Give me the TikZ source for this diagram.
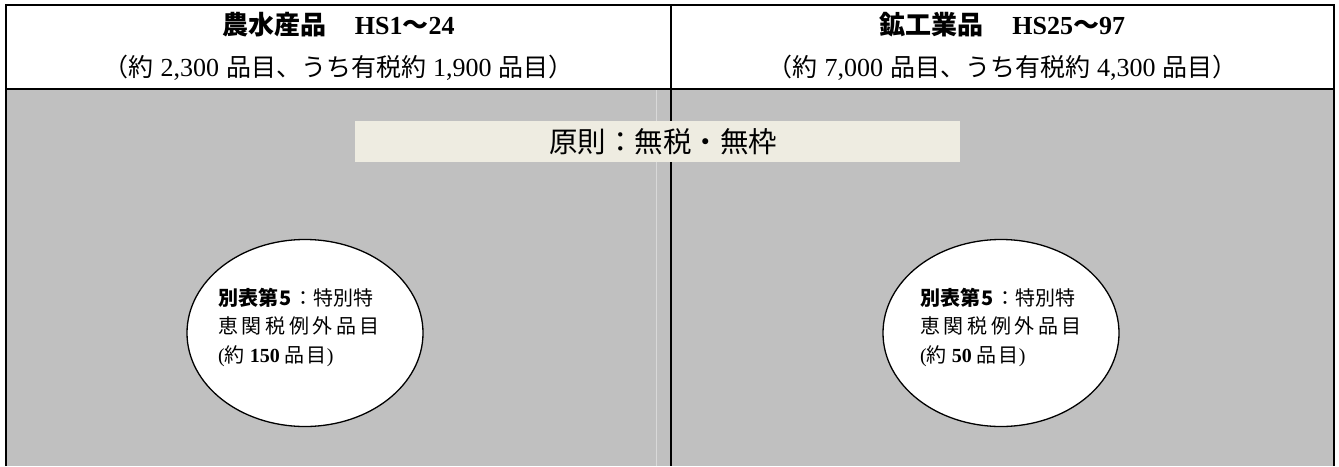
\documentclass[tikz,border=0pt]{standalone}
\usepackage{fontspec}
\setmainfont{Liberation Serif}
\newfontfamily\jp{Noto Sans CJK JP}
\usetikzlibrary{shapes.geometric}
\definecolor{panelgrey}{HTML}{C0C0C0}
\definecolor{bannerbg}{HTML}{EEECE1}
\definecolor{faintline}{HTML}{D9D9D9}
\newcommand\ls{\hspace{3.6pt}}
\newcommand\gap{\hspace{7pt}}
\tikzset{
  frame/.style={line width=2pt, black},
  titletext/.style={inner sep=0pt, font=\fontsize{26}{30}\selectfont\bfseries},
  subtext/.style={inner sep=0pt, font=\fontsize{26}{30}\selectfont},
  banner/.style={fill=bannerbg, minimum width=605pt, minimum height=41pt, inner sep=0pt},
  bannertext/.style={inner sep=0pt, font=\jp\fontsize{28.5}{32}\selectfont},
  oval/.style={ellipse, draw, line width=1.3pt, fill=white, minimum width=236pt, minimum height=187pt, inner sep=0pt},
  ovaltext/.style={anchor=west, align=left, inner sep=0pt, font=\jp\fontsize{20}{28.5}\selectfont}
}
\begin{document}
\begin{tikzpicture}[x=1pt,y=-1pt]
\useasboundingbox (0,0) rectangle (1339,466);
% backgrounds
\fill[panelgrey] (6,89) rectangle (1334,466);
\fill[white] (6,5) rectangle (1334,89);
\coordinate (fl1) at (656,89);
\coordinate (fl2) at (656,466);
\draw[faintline, line width=1pt] (fl1) -- (fl2);
% frame
\coordinate (tl) at (6,5);
\coordinate (tr) at (1334,5);
\coordinate (bl) at (6,466);
\coordinate (br) at (1334,466);
\coordinate (hl) at (6,89);
\coordinate (hr) at (1334,89);
\coordinate (dt) at (671,5);
\coordinate (db) at (671,466);
\draw[frame] (bl) -- (tl) -- (tr) -- (br);
\draw[frame] (hl) -- (hr);
\draw[frame] (dt) -- (db);
% header texts
\node[titletext] (t1) at (338.5,25) {{\jp\bfseries 農水産品}\hspace{1.1em}HS1{\jp\bfseries ～}24};
\node[subtext] (s1) at (338.5,68) {{\jp\fontsize{25}{28}\selectfont （約}\gap 2,300\gap{\jp\fontsize{25}{28}\selectfont 品目、うち有税約}\gap 1,900\gap{\jp\fontsize{25}{28}\selectfont 品目）}};
\node[titletext] (t2) at (1002.5,25) {{\jp\bfseries 鉱工業品}\hspace{1.1em}HS25{\jp\bfseries ～}97};
\node[subtext] (s2) at (1002.5,68) {{\jp\fontsize{25}{28}\selectfont （約}\gap 7,000\gap{\jp\fontsize{25}{28}\selectfont 品目、うち有税約}\gap 4,300\gap{\jp\fontsize{25}{28}\selectfont 品目）}};
% banner
\node[banner] (ban) at (657.5,141.5) {};
\node[bannertext] (bant) at (663,141.5) {原則：無税・無枠};
% ellipses
\node[oval] (e1) at (305,333) {};
\node[oval] (e2) at (1001,333) {};
\node[ovaltext] (x1) at (218,327) {{\bfseries 別表第\hspace{1pt}5}\hspace{2pt}：特別特\\恵\ls 関\ls 税\ls 例\ls 外\ls 品\ls 目\\{\rmfamily (}約\hspace{5pt}{\rmfamily\bfseries 150}\hspace{5pt}品\hspace{2pt}目{\rmfamily )}};
\node[ovaltext] (x2) at (920,327) {{\bfseries 別表第\hspace{1pt}5}\hspace{2pt}：特別特\\恵\ls 関\ls 税\ls 例\ls 外\ls 品\ls 目\\{\rmfamily (}約\hspace{5pt}{\rmfamily\bfseries 50}\hspace{5pt}品\hspace{2pt}目{\rmfamily )}};
\end{tikzpicture}
\end{document}
